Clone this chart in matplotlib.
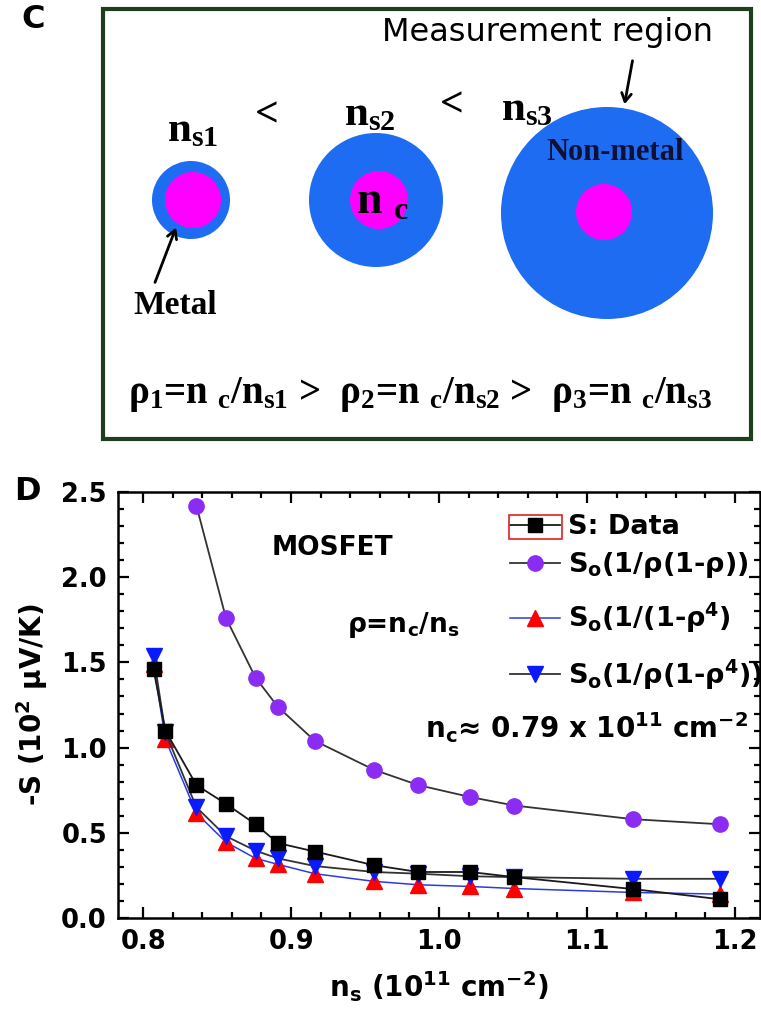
import matplotlib
matplotlib.use('Agg')
import matplotlib.pyplot as plt
from matplotlib.patches import Circle, Rectangle

# panel C math in Times-like bold, panel D in DejaVu Sans bold
plt.rcParams['mathtext.fontset'] = 'custom'
for k in ['rm', 'it', 'bf', 'sf']:
    plt.rcParams['mathtext.' + k] = 'Liberation Serif:bold'

# ---- data (panel D) ----
ns = [0.807, 0.815, 0.836, 0.856, 0.876, 0.891, 0.916, 0.956, 0.986, 1.021, 1.051, 1.131, 1.190]
S_data = [1.46, 1.10, 0.78, 0.67, 0.55, 0.44, 0.39, 0.31, 0.27, 0.27, 0.24, 0.17, 0.11]
ns_rho = ns[2:]
S_rho = [2.42, 1.76, 1.41, 1.24, 1.04, 0.87, 0.78, 0.71, 0.66, 0.58, 0.55]
S_rho4 = [1.49, 1.05, 0.615, 0.445, 0.35, 0.315, 0.26, 0.215, 0.195, 0.185, 0.173, 0.15, 0.14]
S_rhorho4 = [1.54, 1.09, 0.65, 0.48, 0.395, 0.35, 0.305, 0.27, 0.26, 0.245, 0.24, 0.23, 0.23]
labels = ['S: Data',
          r'S$_\mathbf{o}$(1/ρ(1-ρ))',
          r'S$_\mathbf{o}$(1/(1-ρ$^\mathbf{4}$)',
          r'S$_\mathbf{o}$(1/ρ(1-ρ$^\mathbf{4}$))']

# ---- diagram geometry (panel C, pixel units) ----
outer = [(191, 200, 39), (376, 200, 67), (607, 213, 106)]
inner = [(193, 200, 28), (379, 200, 29), (604, 212, 28)]
blue, magenta = '#1d6cf2', '#ff00ff'

fig = plt.figure(figsize=(7.61, 10.10), dpi=100)

# ================= panel C =================
axc = fig.add_axes([0, 0.5, 1, 0.5])
axc.set_xlim(0, 761)
axc.set_ylim(505, 0)
axc.axis('off')

axc.add_patch(Rectangle((103, 9), 648, 430, fill=False, ec='#1f3d1f', lw=3))
for (x, y, r) in outer:
    axc.add_patch(Circle((x, y), r, color=blue, lw=0))
for (x, y, r) in inner:
    axc.add_patch(Circle((x, y), r, color=magenta, lw=0))

serif = dict(family='Liberation Serif', weight='bold', ha='center', va='center')
arrow = dict(arrowstyle='->,head_length=0.6,head_width=0.35', lw=2, color='black')
axc.text(33, 20, 'C', family='DejaVu Sans', weight='bold', fontsize=23, ha='center', va='center')
axc.text(547, 32, 'Measurement region', family='DejaVu Sans', fontsize=23, ha='center', va='center')
axc.annotate('', xy=(624, 107), xytext=(633, 58), arrowprops=arrow)
axc.text(193, 131, r'n$_{s1}$', fontsize=31, **serif)
axc.text(267, 116, '<', fontsize=30, **serif)
axc.text(370, 115, r'n$_{s2}$', fontsize=31, **serif)
axc.text(452, 106, '<', fontsize=30, **serif)
axc.text(527, 110, r'n$_{s3}$', fontsize=31, **serif)
axc.text(382, 203, r'n ${}_c$', fontsize=33, **serif)
axc.text(615, 153, 'Non-metal', fontsize=22, color='#101035', **serif)
axc.text(175, 305, 'Metal', fontsize=24, **serif)
axc.annotate('', xy=(177, 225), xytext=(154, 285), arrowprops=arrow)
axc.text(420, 394, r'ρ$_1$=n ${}_c$/n$_{s1}$ >  ρ$_2$=n ${}_c$/n$_{s2}$ >  ρ$_3$=n ${}_c$/n$_{s3}$',
         fontsize=28, **serif)

# ================= panel D =================
ax = fig.add_axes([118/761, 1-918/1010, (760-118)/761, (918-492)/1010])
mf = 'dejavusans'
bold = dict(family='DejaVu Sans', weight='bold')

l1, = ax.plot(ns, S_data, '-s', color='#1a1a1a', lw=1.3, ms=10, mfc='black', mec='black', label=labels[0], zorder=4)
l2, = ax.plot(ns_rho, S_rho, '-o', color='#333333', lw=1.3, ms=11, mfc='#8b2cf5', mec='#8b2cf5', label=labels[1], zorder=3)
l3, = ax.plot(ns, S_rho4, '-^', color='#2a3ae8', lw=1.1, ms=11, mfc='red', mec='red', label=labels[2], zorder=3)
l4, = ax.plot(ns, S_rhorho4, '-v', color='#333333', lw=1.3, ms=11, mfc='#0a1aff', mec='#0a1aff', label=labels[3], zorder=3)

ax.set_xlim(0.783, 1.217)
ax.set_ylim(0, 2.5)
ax.set_xticks([0.8, 0.9, 1.0, 1.1, 1.2])
ax.set_yticks([0.0, 0.5, 1.0, 1.5, 2.0, 2.5])
ax.set_xticks([0.8 + 0.02*i for i in range(21)], minor=True)
ax.set_yticks([0.1*i for i in range(26)], minor=True)
ax.tick_params(which='both', direction='in', top=True, right=True, width=1.6)
ax.tick_params(which='major', length=8, pad=8)
ax.tick_params(which='minor', length=4)
for lab in ax.get_xticklabels() + ax.get_yticklabels():
    lab.set_fontfamily('DejaVu Sans')
    lab.set_fontweight('bold')
    lab.set_fontsize(18.5)
for s in ax.spines.values():
    s.set_linewidth(1.8)

ax.set_xlabel(r'n$_\mathbf{s}$ (10$^\mathbf{11}$ cm$^\mathbf{-2}$)', fontsize=20, labelpad=10,
              math_fontfamily=mf, **bold)
ax.set_ylabel(r'-S (10$^\mathbf{2}$ μV/K)', fontsize=20, labelpad=8, math_fontfamily=mf, **bold)

ax.text(0.928, 2.17, 'MOSFET', fontsize=19, ha='center', va='center', **bold)
ax.text(0.976, 1.72, r'ρ=n$_\mathbf{c}$/n$_\mathbf{s}$', fontsize=19, ha='center', va='center',
        math_fontfamily=mf, **bold)
ax.text(1.100, 1.12, r'n$_\mathbf{c}$≈ 0.79 x 10$^\mathbf{11}$ cm$^\mathbf{-2}$', fontsize=20,
        ha='center', va='center', math_fontfamily=mf, **bold)

prop = dict(family='DejaVu Sans', weight='bold', size=19.5)
leg1 = ax.legend([l1, l2], labels[:2], loc='upper left', bbox_to_anchor=(0.61, 0.948),
                 frameon=False, borderpad=0, borderaxespad=0, handlelength=1.85,
                 handletextpad=0.3, labelspacing=0.38, prop=prop)
ax.add_artist(leg1)
leg2 = ax.legend([l3, l4], labels[2:], loc='upper left', bbox_to_anchor=(0.61, 0.745),
                 frameon=False, borderpad=0, borderaxespad=0, handlelength=1.85,
                 handletextpad=0.3, labelspacing=0.82, prop=prop)
for lg in (leg1, leg2):
    for t in lg.get_texts():
        t.set_math_fontfamily(mf)
ax.add_patch(Rectangle((0.609, 0.889), 0.083, 0.056, transform=ax.transAxes,
                       fill=False, ec='#dd2222', lw=1.2, zorder=5))

fig.text(27/761, 1-492/1010, 'D', fontsize=23, ha='center', va='center', **bold)

fig.savefig('out.png', dpi=100)
